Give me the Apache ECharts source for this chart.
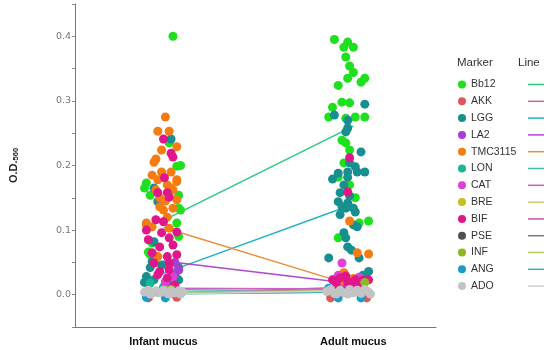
<!DOCTYPE html>
<html><head><meta charset="utf-8">
<script src="https://cdn.jsdelivr.net/npm/echarts@6/dist/echarts.min.js"></script>
<style>html,body{margin:0;padding:0;background:#fff}#c{width:550px;height:350px}</style>
</head><body><div id="c"></div>
<script>
const groupLabels = ['Infant mucus', 'Adult mucus'];
const yTickLabels = [0, 0.1, 0.2, 0.3, 0.4];
const seriesNames = ['Bb12','AKK','LGG','LA2','TMC3115','LON','CAT','BRE','BIF','PSE','INF','ANG','ADO'];
const markerColors = ['#1fe01f','#e0575b','#178f8f','#a83cd8','#f57c10','#1ab892','#e040d8','#c8c020','#e0168a','#505050','#8cb820','#1a9cc8','#c4c4c4'];
const lineColors = ['#2cc882','#d06a7a','#22b4c0','#b048d0','#e8903c','#3cc0a8','#c860c8','#d0cc70','#b858b0','#7a7a7a','#b8cc60','#38b0b8','#cfcfcf'];
const meanInfant = [0.115,0.002,0.033,0.052,0.104,0.008,0.010,0.004,0.003,0.002,0.003,0.001,0.001];
const meanAdult  = [0.261,0.012,0.140,0.017,0.014,0.005,0.009,0.006,0.008,0.004,0.007,0.004,0.006];

const ptsBb12 = [[0.05,0.400],[0.03,0.235],[0.07,0.199],[-0.09,0.173],[-0.07,0.154],[0.08,0.154],[0.08,0.134],[0.09,0.131],[0.08,0.090],[-0.06,0.080],[-0.07,0.062],[0.07,0.111],[-0.08,0.066],[-0.10,0.165],[0.09,0.200],
 [0.90,0.395],[0.97,0.391],[0.95,0.383],[1.00,0.383],[0.96,0.368],[0.98,0.354],[1.00,0.344],[0.97,0.335],[1.06,0.335],[1.04,0.329],[0.92,0.324],[0.94,0.298],[0.98,0.297],[0.89,0.290],[0.87,0.275],[1.01,0.275],[1.06,0.275],[0.96,0.273],[0.94,0.239],[0.96,0.235],[0.98,0.224],[0.95,0.204],[0.92,0.182],[0.98,0.170],[1.01,0.150],[1.03,0.111],[1.08,0.114],[0.92,0.088]];
const ptsAKK = [[-0.08,-0.005],[0.07,-0.004],[0.88,-0.005],[1.07,-0.005],[1.05,0.016]];
const ptsLGG = [[0.04,0.241],[-0.05,0.165],[-0.03,0.144],[-0.05,0.082],[-0.06,0.051],[-0.07,0.042],[0.08,0.042],[-0.09,0.028],[-0.05,0.023],[0.08,0.023],[-0.01,0.046],[0.04,0.015],[-0.10,0.019],[0.06,0.030],
 [0.90,0.278],[0.97,0.270],[1.06,0.295],[0.97,0.258],[0.96,0.252],[1.04,0.221],[0.98,0.204],[1.01,0.198],[0.97,0.190],[1.02,0.190],[1.06,0.190],[0.92,0.188],[0.97,0.182],[0.89,0.179],[0.95,0.170],[0.93,0.158],[0.98,0.153],[0.92,0.144],[0.97,0.142],[0.96,0.134],[1.00,0.134],[0.94,0.136],[0.97,0.136],[1.01,0.128],[0.93,0.124],[1.00,0.108],[1.02,0.105],[0.95,0.096],[0.96,0.088],[0.97,0.074],[0.99,0.069],[0.87,0.057],[1.03,0.057],[1.08,0.036],[0.93,0.022],[1.05,0.030]];
const ptsLA2 = [[0.06,0.050],[0.08,0.038],[0.03,0.012],[0.96,0.015],[1.03,0.012]];
const ptsTMC3115 = [[0.01,0.275],[-0.03,0.253],[0.03,0.253],[0.07,0.229],[-0.01,0.224],[-0.04,0.210],[-0.05,0.205],[-0.01,0.190],[0.04,0.190],[-0.03,0.178],[0.07,0.178],[0.02,0.170],[0.05,0.162],[-0.04,0.162],[0.04,0.165],[0.07,0.175],[0.07,0.147],[-0.02,0.136],[0.00,0.131],[0.05,0.134],[0.02,0.120],[-0.09,0.108],[0.03,0.103],[-0.03,0.059],[-0.09,0.111],[-0.06,0.105],[-0.02,0.150],[0.01,0.145],[-0.06,0.185],
 [0.98,0.114],[1.02,0.065],[1.08,0.063],[0.95,0.034],[0.93,0.020],[1.00,0.025]];
const ptsLON = [[0.00,0.012],[-0.07,0.018],[1.00,0.012]];
const ptsCAT = [[0.05,0.028],[0.01,0.020],[0.06,0.010],[0.94,0.049],[0.92,0.030],[1.03,0.027]];
const ptsBRE = [[0.02,0.006],[1.02,0.008]];
const ptsBIF = [[0.00,0.241],[0.04,0.219],[0.05,0.213],[0.005,0.181],[-0.03,0.158],[0.02,0.158],[0.03,0.151],[-0.04,0.116],[0.00,0.113],[-0.09,0.100],[-0.01,0.096],[0.07,0.097],[0.03,0.088],[0.05,0.077],[-0.02,0.074],[-0.06,0.065],[0.02,0.059],[0.07,0.062],[0.03,0.049],[-0.05,0.049],[-0.02,0.036],[0.03,0.039],[-0.03,0.031],[0.02,0.026],[-0.08,0.085],[0.06,0.015],
 [0.98,0.212],[0.97,0.159],[0.89,0.023],[0.93,0.026],[0.97,0.020],[1.01,0.023],[1.05,0.022],[1.08,0.023],[0.96,0.029],[1.00,0.017],[1.04,0.018],[0.91,0.017]];
const ptsPSE = [[-0.03,0.004],[0.95,0.004]];
const ptsINF = [[0.04,0.008],[1.06,0.019]];
const ptsANG = [[-0.09,-0.004],[0.01,-0.005],[0.92,-0.005],[1.04,-0.005],[0.87,0.010]];
const ptsADO = [[-0.10,0.004],[-0.08,0.007],[-0.06,0.002],[-0.04,0.006],[-0.02,0.003],[0.00,0.007],[0.02,0.002],[0.04,0.006],[0.06,0.003],[0.08,0.006],[0.10,0.004],[-0.07,0.001],[0.03,0.001],[0.09,0.001],
 [0.86,0.005],[0.88,0.008],[0.90,0.002],[0.93,0.007],[0.95,0.003],[0.98,0.008],[1.00,0.003],[1.02,0.007],[1.04,0.002],[1.06,0.008],[1.08,0.004],[1.09,0.001],[0.91,0.001],[0.97,0.001]];
const points = [ptsBb12, ptsAKK, ptsLGG, ptsLA2, ptsTMC3115, ptsLON, ptsCAT, ptsBRE, ptsBIF, ptsPSE, ptsINF, ptsANG, ptsADO];

const chart = echarts.init(document.getElementById('c'), null, {renderer: 'canvas'});
const series = [];
seriesNames.forEach((n, i) => {
  series.push({
    name: n, type: 'line', z: 1, silent: true, symbol: 'none',
    data: [[0, meanInfant[i]], [1, meanAdult[i]]],
    lineStyle: {color: lineColors[i], width: 1.5}, itemStyle: {color: markerColors[i]}
  });
});
seriesNames.forEach((n, i) => {
  series.push({
    name: n, type: 'scatter', z: n === 'ADO' ? 3 : 2, symbolSize: 9,
    data: points[i], itemStyle: {color: markerColors[i], opacity: 1}
  });
});

chart.setOption({
  animation: false,
  grid: {left: 73, right: 114, top: 4, bottom: 23},
  xAxis: {
    type: 'value', min: -0.466, max: 1.435,
    axisLine: {show: true, onZero: false, lineStyle: {color: '#777', width: 1}},
    axisTick: {show: false}, splitLine: {show: false},
    axisLabel: {customValues: [0, 1], formatter: v => groupLabels[Math.round(v)],
      fontFamily: 'Liberation Sans', fontWeight: 'bold', fontSize: 11, color: '#111', margin: 9}
  },
  yAxis: {
    type: 'value', min: -0.05, max: 0.45, interval: 0.05,
    name: '{b|O.D.}{s|560}', nameLocation: 'middle', nameGap: 55, nameRotate: 90,
    nameTextStyle: {rich: {
      b: {fontFamily: 'Liberation Sans', fontWeight: 'bold', fontSize: 11, color: '#222'},
      s: {fontFamily: 'Liberation Sans', fontWeight: 'bold', fontSize: 7.5, color: '#222', padding: [5, 0, 0, 0]}
    }},
    axisLine: {show: true, onZero: false, lineStyle: {color: '#777', width: 1}},
    axisTick: {show: true, length: 3, lineStyle: {color: '#888'}},
    splitLine: {show: false},
    axisLabel: {customValues: yTickLabels, formatter: v => v.toFixed(1),
      fontFamily: 'DejaVu Sans', fontSize: 9.5, color: '#777', margin: 4}
  },
  legend: [{
    orient: 'vertical', left: 453, top: 73, icon: 'circle', itemWidth: 8, itemHeight: 8,
    itemGap: 3.8, itemTextGap: 5, data: seriesNames,
    textStyle: {fontFamily: 'Liberation Sans', fontSize: 10.5, color: '#333', lineHeight: 13}
  }, {
    orient: 'vertical', left: 523, top: 73, itemWidth: 16, itemHeight: 1.5, itemGap: 3.8, itemTextGap: 0,
    data: seriesNames.map((n, i) => ({name: n, icon: 'rect', itemStyle: {color: lineColors[i]}})),
    formatter: () => ' ',
    textStyle: {fontFamily: 'Liberation Sans', fontSize: 10.5, lineHeight: 13}
  }],
  graphic: [
    {type: 'text', left: 457, top: 57, style: {text: 'Marker', font: '11.5px "Liberation Sans"', fill: '#333'}},
    {type: 'text', left: 518, top: 57, style: {text: 'Line', font: '11.5px "Liberation Sans"', fill: '#333'}}
  ],
  series: series
});
</script></body></html>
